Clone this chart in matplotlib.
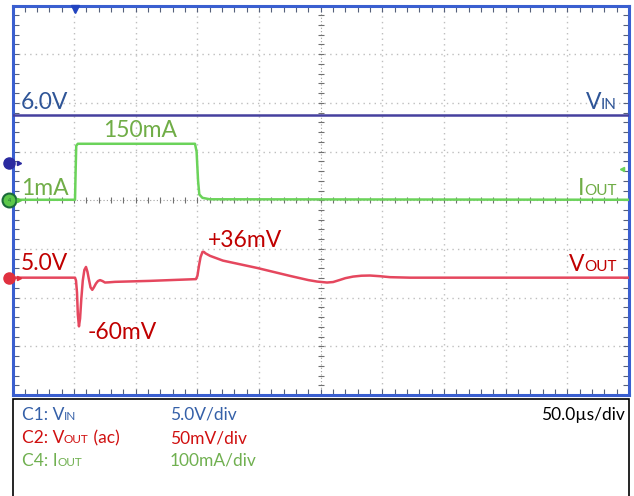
import numpy as np
import matplotlib.pyplot as plt
from matplotlib.patches import Rectangle

plt.rcParams['font.family'] = ['Lato', 'DejaVu Sans']

W, H, DPI = 634, 496, 100

# horizontal: 50 us/div, 10 div ; vertical: 8 div
time_span = 500.0
n_vdiv = 8

# channel settings: volts (or mA) per div and ground marker position (div)
vin_scale, vin_pos = 5.0, 0.77
vout_scale, vout_pos = 50.0, -1.59
iout_scale, iout_pos = 100.0, 0.0

# C1 - input voltage (V)
vin_t = [0, 500]
vin_v = [4.9, 4.9]

# C4 - load current (mA)
iout_t = [0, 50.7, 51.2, 51.7, 53.0, 148.0, 149.3, 150.5, 151.5, 154.0, 160.0, 500]
iout_ma = [1, 1, 60, 112, 116, 116, 100, 40, 12, 5, 2, 1]

# C2 - output voltage, ac coupled (mV deviation)
vout_t = [0, 50.7, 51.5, 52.3, 53.0, 53.9, 54.8, 55.8, 57.0, 58.3, 59.6, 60.8,
          62.0, 63.3, 64.7, 66.0, 67.7, 69.3, 71.0, 73.0, 75.0, 78.0, 83.1,
          111.5, 148.8, 150.0, 151.2, 152.5, 154.1, 155.2, 156.5, 160.2, 170.7,
          198.3, 225.1, 240.0, 247.0, 255.1, 260.0, 265.6, 270.0, 276.2, 283.0,
          289.9, 298.0, 306.2, 322.4, 500]
vout_mv = [0, 0, -3, -15, -38, -50, -42, -22, -3, 8, 11, 6,
           -2, -10, -12.5, -10, -6, -3.5, -2.5, -3.5, -5, -4.8, -4.3,
           -3.3, -1.5, 2, 12, 21, 26.5, 26.5, 25, 22.4, 17.5,
           10, 1.8, -2.5, -4, -5, -4.5, -2.3, -0.5, 1.1, 2.0,
           2.2, 1.5, 0.5, 0, 0]

# info panel rows
ch_names = [("C1: V", "IN", ""), ("C2: V", "OUT", " (ac)"), ("C4: I", "OUT", "")]
ch_scales = ["5.0V/div", "50mV/div", "100mA/div"]
ch_text_colors = ["#3560A8", "#D01010", "#70B050"]
timebase = "50.0\u00b5s/div"

c_vin = "#45409E"
c_iout = "#6BD35A"
c_vout = "#E5475E"
t_blue = "#2F5597"
t_green = "#70AD47"
t_red = "#C00000"
frame = "#3A5FD0"

fig = plt.figure(figsize=(W / DPI, H / DPI), dpi=DPI)
ax = fig.add_axes([12.5 / W, 101 / H, 616.5 / W, 389.5 / H])
ax.set_xlim(0, time_span)
ax.set_ylim(-n_vdiv / 2, n_vdiv / 2)

for s in ax.spines.values():
    s.set_color(frame)
    s.set_linewidth(2.2)
ax.set_xticks(np.arange(0, time_span + 1, 50))
ax.set_yticks(np.arange(-4, 5, 1))
ax.set_xticks(np.arange(0, time_span + 1, 10), minor=True)
ax.set_yticks(np.arange(-4, 4.01, 0.2), minor=True)
ax.tick_params(which='both', direction='in', length=4, width=0.8, color='#55607A',
               top=True, right=True, labelbottom=False, labelleft=False)

# graticule
for x in np.arange(50, time_span, 50):
    if x != 250:
        ax.axvline(x, color='#BEBEBE', lw=1.0, ls=(0, (1, 3)), zorder=0)
for y in range(-3, 4):
    if y != 0:
        ax.axhline(y, color='#BEBEBE', lw=1.0, ls=(0, (1, 3)), zorder=0)
ax.axvline(250, color='#A0A0A0', lw=0.8, ls=(0, (1, 2)), zorder=0)
ax.axhline(0, color='#A0A0A0', lw=0.8, ls=(0, (1, 2)), zorder=0)
xt = np.arange(10, time_span, 10)
ax.plot(xt, np.zeros_like(xt), ls='none', marker='|', ms=5, mew=0.8, color='#707070', zorder=0)
yt = np.arange(-3.8, 3.81, 0.2)
ax.plot(np.full_like(yt, 250), yt, ls='none', marker='_', ms=5, mew=0.8, color='#707070', zorder=0)

# traces
ax.plot(vin_t, vin_pos + np.array(vin_v) / vin_scale, color=c_vin, lw=1.8, zorder=3)
ax.plot(iout_t, iout_pos + np.array(iout_ma) / iout_scale, color=c_iout, lw=1.8, zorder=3)
ax.plot(vout_t, vout_pos + np.array(vout_mv) / vout_scale, color=c_vout, lw=1.8, zorder=4)

# channel markers on the left edge, trigger markers
ax.plot(-2.8, vin_pos, 'o', ms=8, color='#2A2AA0', clip_on=False, zorder=6)
ax.plot(5, vin_pos, '>', ms=3, color='#2A2AA0', clip_on=False, zorder=6)
ax.plot(-2.8, iout_pos, 'o', ms=10, mfc='#5CC84A', mec='#1A6A3A', mew=1.5, clip_on=False, zorder=6)
ax.plot(5, iout_pos, '>', ms=3, color='#5CC84A', clip_on=False, zorder=6)
ax.text(-2.8, iout_pos, "4", fontsize=4, color='#1A6A3A', ha='center', va='center', zorder=7)
ax.plot(-2.8, vout_pos, 'o', ms=8, color='#E0303F', clip_on=False, zorder=6)
ax.plot(5, vout_pos, '>', ms=3, color='#E0303F', clip_on=False, zorder=6)
ax.plot(50.7, 3.93, 'v', ms=6, color='#2244C0', clip_on=False, zorder=6)
ax.plot(494, 0.64, '<', ms=3, color=c_iout, clip_on=False, zorder=6)

renderer = fig.canvas.get_renderer()


def seg_text(xy, parts, color, coords, ha='left'):
    # parts: list of (string, fontsize); laid out along a common baseline
    off = 0.0
    seq = parts if ha == 'left' else parts[::-1]
    for s, fs in seq:
        if not s:
            continue
        t = ax.annotate(s, xy=xy, xycoords=coords, xytext=(off, 0),
                        textcoords='offset points', ha=ha, va='baseline',
                        fontsize=fs, color=color, annotation_clip=False, zorder=8)
        w = t.get_window_extent(renderer).width * 72 / DPI
        off += w if ha == 'left' else -w


big = 16.5
seg_text((6.9, 1.874), [("6.0V", big)], t_blue, 'data')
seg_text((73.4, 1.30), [("150mA", big)], t_green, 'data')
seg_text((6.9, 0.108), [("1mA", big)], t_green, 'data')
seg_text((6.9, -1.432), [("5.0V", big)], t_red, 'data')
seg_text((61.2, -2.85), [("-60mV", big)], t_red, 'data')
seg_text((158.5, -0.96), [("+36mV", big)], t_red, 'data')
seg_text((490.2, 1.874), [("V", big), ("IN", 11)], t_blue, 'data', ha='right')
seg_text((490.2, 0.108), [("I", big), ("OUT", 11)], t_green, 'data', ha='right')
seg_text((490.2, -1.453), [("V", big), ("OUT", 11)], t_red, 'data', ha='right')

# info panel below the screen
fig.add_artist(Rectangle((12.5 / W, -0.05), 616.5 / W, 0.05 + 97 / H,
                         transform=fig.transFigure, fill=True, facecolor='white',
                         edgecolor='black', lw=1.2, zorder=-1))
for i, (name, scale, col) in enumerate(zip(ch_names, ch_scales, ch_text_colors)):
    yb = 1 - (420 + 23 * i) / H
    seg_text((21.5 / W, yb), [(name[0], 12.5), (name[1], 8.5), (name[2], 12.5)], col, 'figure fraction')
    seg_text((170 / W, yb), [(scale, 12.5)], col, 'figure fraction')
seg_text((625 / W, 1 - 420 / H), [(timebase, 12.5)], 'black', 'figure fraction', ha='right')

fig.savefig("out.png", dpi=DPI)
